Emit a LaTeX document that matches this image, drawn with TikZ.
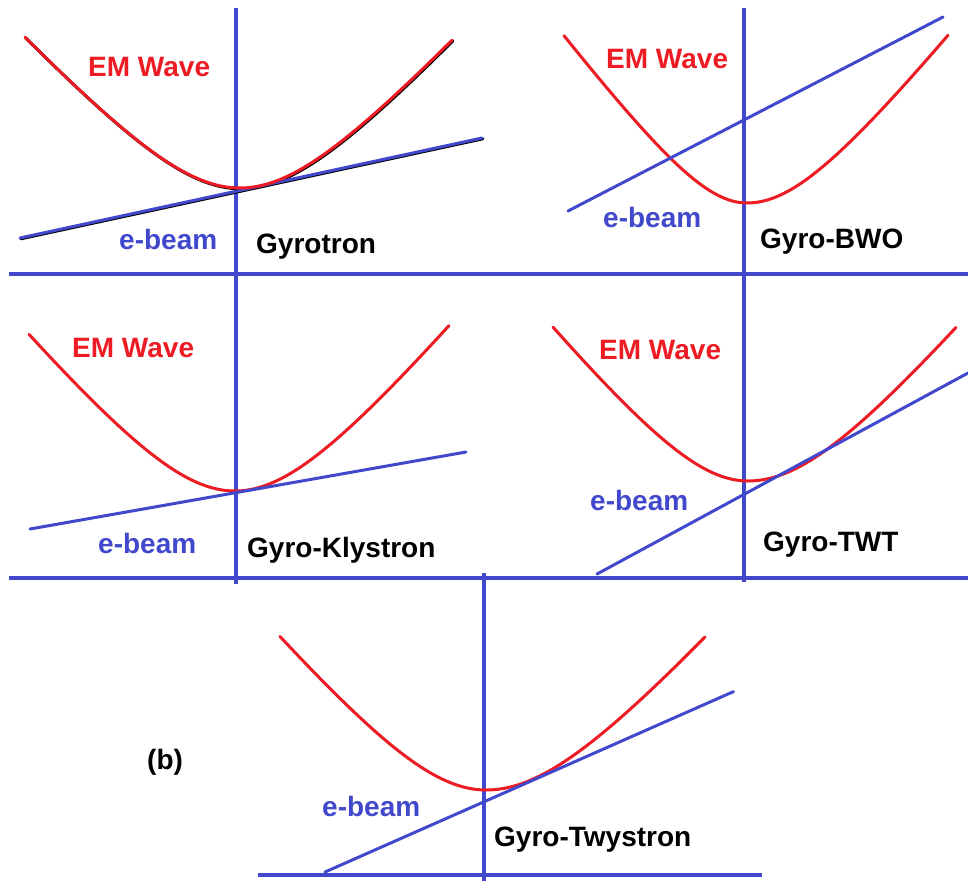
\documentclass[tikz,border=0pt]{standalone}
\usepackage{fontspec}
\setmainfont{Liberation Sans}
\definecolor{bl}{RGB}{66,72,204}
\definecolor{rd}{RGB}{237,28,36}
\begin{document}
\begin{tikzpicture}[x=1pt,y=-1pt,
  axis/.style={draw=bl, line width=3.2pt},
  beam/.style={draw=bl, line width=3pt, line cap=round},
  wave/.style={draw=rd, line width=3pt, line cap=round},
  shade/.style={draw=black, line width=3pt, line cap=round},
  lab/.style={font=\bfseries\fontsize{28}{28}\selectfont, inner sep=0pt, anchor=base west},
]
\useasboundingbox (0,0) rectangle (968,881);
% axes
\draw[axis] (9,274) -- (968,274);
\draw[axis] (9,578) -- (968,578);
\draw[axis] (258,875) -- (762,875);
\draw[axis] (236,8) -- (236,584);
\draw[axis] (744,8) -- (744,582);
\draw[axis] (484,573) -- (484,881);
% panel 1: Gyrotron
\draw[shade, xshift=0.8pt, yshift=-0.8pt] (20,238) -- (482,138);
\draw[shade, xshift=0.8pt, yshift=-0.8pt] plot[domain=-215:212, samples=90] ({240+\x},{188-110*(sqrt(1+(\x/100)^2)-1)});
\draw[beam] (20,238) -- (482,138);
\draw[wave] plot[domain=-215:212, samples=90] ({240+\x},{188-110*(sqrt(1+(\x/100)^2)-1)});
% panel 2: Gyro-BWO
\draw[wave] plot[domain=-183:0, samples=50] ({747+\x},{203-93*(sqrt(1+(\x/70)^2)-1)})
  -- plot[domain=0:201, samples=50] ({747+\x},{203-107*(sqrt(1+(\x/85)^2)-1)});
\draw[beam] (568,211) -- (943,17);
% panel 3: Gyro-Klystron
\draw[wave] plot[domain=-206:214, samples=90] ({235+\x},{491-118*(sqrt(1+(\x/98)^2)-1)});
\draw[beam] (30,529) -- (466,452);
% panel 4: Gyro-TWT
\draw[wave] plot[domain=-195:0, samples=50] ({748+\x},{481-111*(sqrt(1+(\x/90)^2)-1)})
  -- plot[domain=0:208, samples=50] ({748+\x},{481-126*(sqrt(1+(\x/105)^2)-1)});
\draw[beam] (597,574) -- (968,373);
% panel 5: Gyro-Twystron
\draw[wave] plot[domain=-206:0, samples=50] ({486+\x},{790-119*(sqrt(1+(\x/100)^2)-1)})
  -- plot[domain=0:219, samples=50] ({486+\x},{790-124.6*(sqrt(1+(\x/110)^2)-1)});
\draw[beam] (325,872) -- (733.5,691.6);
% labels
\node[lab, text=rd] (em1) at (88,76) {EM Wave};
\node[lab, text=bl] (eb1) at (119,249) {e-beam};
\node[lab] (t1) at (256,253) {Gyrotron};
\node[lab, text=rd] (em2) at (606,68) {EM Wave};
\node[lab, text=bl] (eb2) at (603,227) {e-beam};
\node[lab] (t2) at (760,248) {Gyro-BWO};
\node[lab, text=rd] (em3) at (72,357) {EM Wave};
\node[lab, text=bl] (eb3) at (98,553) {e-beam};
\node[lab] (t3) at (247,557) {Gyro-Klystron};
\node[lab, text=rd] (em4) at (599,359) {EM Wave};
\node[lab, text=bl] (eb4) at (590,510) {e-beam};
\node[lab] (t4) at (763,551) {Gyro-TWT};
\node[lab, text=bl] (eb5) at (322,816) {e-beam};
\node[lab] (t5) at (494,846) {Gyro-Twystron};
\node[lab] (b) at (147,769) {(b)};
\end{tikzpicture}
\end{document}
